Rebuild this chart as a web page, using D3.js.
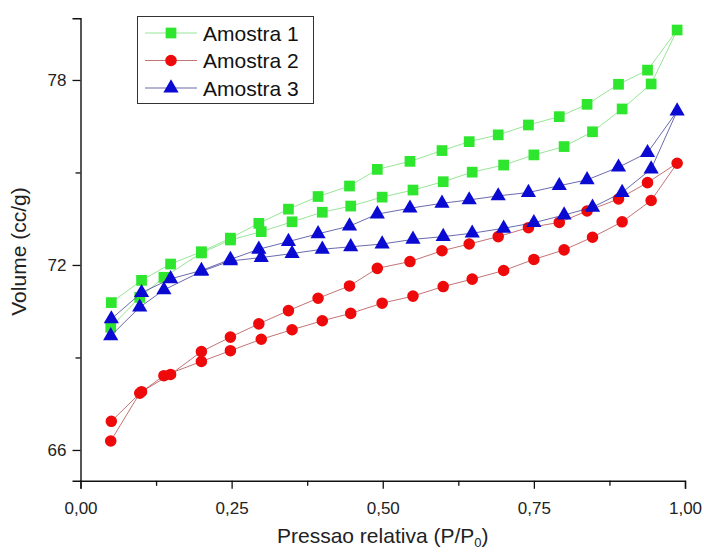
<!DOCTYPE html>
<html>
<head>
<meta charset="utf-8">
<script src="https://cdn.jsdelivr.net/npm/d3@7"></script>
<style>
  html, body { margin: 0; padding: 0; background: #fff; }
  svg { display: block; font-family: "Liberation Sans", Arial, sans-serif; }
</style>
</head>
<body>
<svg id="chart" width="704" height="552"></svg>
<script>
// Relative pressure points: adsorption (rising), the turning point, desorption (falling)
const pAds = [0.050, 0.098, 0.138, 0.200, 0.248, 0.299, 0.350, 0.400, 0.447, 0.499,
              0.550, 0.600, 0.648, 0.700, 0.750, 0.800, 0.847, 0.896, 0.944];
const pTop = 0.987;
const pDes = [0.938, 0.890, 0.838, 0.792, 0.741, 0.691, 0.643, 0.598, 0.545, 0.491,
              0.445, 0.393, 0.344, 0.295, 0.248, 0.200, 0.149, 0.101, 0.051];

// Volume adsorbed (cc/g) for each sample
const amostra1Ads = [69.98, 70.95, 71.60, 72.39, 72.81, 73.08, 73.40, 73.71, 73.91, 74.20,
                     74.43, 74.70, 75.01, 75.24, 75.57, 75.84, 76.32, 77.06, 77.87];
const amostra1Top = 79.62;
const amostra1Des = [78.32, 77.86, 77.21, 76.81, 76.54, 76.22, 76.00, 75.71, 75.36, 75.10,
                     74.56, 74.22, 73.81, 73.35, 72.87, 72.43, 72.03, 71.50, 70.78];

const amostra2Ads = [66.29, 67.84, 68.41, 68.87, 69.22, 69.59, 69.90, 70.19, 70.43, 70.76,
                     70.99, 71.30, 71.54, 71.82, 72.18, 72.49, 72.90, 73.40, 74.09];
const amostra2Top = 75.30;
const amostra2Des = [74.67, 74.14, 73.75, 73.38, 73.21, 72.92, 72.68, 72.46, 72.11, 71.89,
                     71.32, 70.92, 70.52, 70.09, 69.66, 69.19, 68.45, 67.89, 66.93];

const amostra3Ads = [69.70, 70.63, 71.19, 71.79, 72.13, 72.24, 72.37, 72.51, 72.59, 72.68,
                     72.83, 72.92, 73.03, 73.19, 73.37, 73.62, 73.87, 74.35, 75.11];
const amostra3Top = 76.99;
const amostra3Des = [75.64, 75.17, 74.76, 74.57, 74.35, 74.24, 74.11, 74.00, 73.84, 73.65,
                     73.26, 73.01, 72.76, 72.51, 72.18, 71.82, 71.55, 71.10, 70.25];

const seriesNames = ["Amostra 1", "Amostra 2", "Amostra 3"];
const xTicks = [0, 0.25, 0.5, 0.75, 1];
const xMinorTicks = [0.125, 0.375, 0.625, 0.875];
const yTicks = [66, 72, 78];
const yMinorTicks = [69, 75];

const svg = d3.select("#chart");

const x = d3.scaleLinear().domain([0, 1]).range([80.5, 685]);
const y = d3.scaleLinear().domain([65, 80]).range([480.8, 18.3]);

const fmtX = v => d3.format(".2f")(v).replace(".", ",");

// Build each sample's full loop: adsorption, turning point, desorption
function loop(ads, top, des) {
  const pts = pAds.map((p, i) => ({ p, v: ads[i] }));
  pts.push({ p: pTop, v: top });
  pDes.forEach((p, i) => pts.push({ p, v: des[i] }));
  return pts;
}

const series = [
  { name: seriesNames[0], color: "#2ee62e", line: "#6ada6a", shape: "square",
    pts: loop(amostra1Ads, amostra1Top, amostra1Des) },
  { name: seriesNames[1], color: "#ee0a0a", line: "#a8383a", shape: "circle",
    pts: loop(amostra2Ads, amostra2Top, amostra2Des) },
  { name: seriesNames[2], color: "#0a0ad2", line: "#2a2a8a", shape: "triangle",
    pts: loop(amostra3Ads, amostra3Top, amostra3Des) }
];

const symbolFor = {
  square: d3.symbol().type(d3.symbolSquare).size(115),
  circle: d3.symbol().type(d3.symbolCircle).size(105),
  triangle: d3.symbol().type(d3.symbolTriangle).size(100)
};

const line = d3.line().x(d => x(d.p)).y(d => y(d.v));

// Axes
const axisColor = "#111";
svg.append("g").attr("transform", `translate(0,${y(65)})`)
  .call(d3.axisBottom(x).tickValues(xTicks).tickFormat(fmtX).tickSizeOuter(0).tickSize(8).tickPadding(13));
svg.append("g").attr("transform", `translate(0,${y(65)})`)
  .call(d3.axisBottom(x).tickValues(xMinorTicks).tickFormat("").tickSizeOuter(0).tickSize(5))
  .select(".domain").remove();

svg.append("g").attr("transform", `translate(${x(0)},0)`)
  .call(d3.axisLeft(y).tickValues(yTicks).tickFormat(d3.format("d")).tickSizeOuter(0).tickSize(8).tickPadding(6));
svg.append("g").attr("transform", `translate(${x(0)},0)`)
  .call(d3.axisLeft(y).tickValues(yMinorTicks).tickFormat("").tickSizeOuter(0).tickSize(5))
  .select(".domain").remove();

svg.selectAll(".domain").attr("stroke", axisColor).attr("stroke-width", 1.4);
svg.selectAll(".tick line").attr("stroke", axisColor).attr("stroke-width", 1.3);
svg.selectAll(".tick text").attr("fill", "#222").attr("font-size", 17)
  .attr("font-family", "Liberation Sans, Arial, sans-serif");

// Axis titles
svg.append("text")
  .attr("transform", `translate(26,${(y(65) + y(80)) / 2 + 2}) rotate(-90)`)
  .attr("text-anchor", "middle")
  .attr("font-size", 21).attr("fill", "#222")
  .text("Volume (cc/g)");

const xt = svg.append("text")
  .attr("x", (x(0) + x(1)) / 2).attr("y", 543)
  .attr("text-anchor", "middle")
  .attr("font-size", 21).attr("fill", "#222");
xt.append("tspan").text("Pressao relativa (P/P");
xt.append("tspan").attr("font-size", 13).attr("dy", 4).text("0");
xt.append("tspan").attr("dy", -4).text(")");

// Data lines and markers
series.forEach(s => {
  svg.append("path")
    .datum(s.pts)
    .attr("fill", "none")
    .attr("stroke", s.line)
    .attr("stroke-width", 0.7)
    .attr("d", line);
  svg.append("g").selectAll("path")
    .data(s.pts)
    .join("path")
    .attr("transform", d => `translate(${x(d.p)},${y(d.v)})`)
    .attr("d", symbolFor[s.shape]())
    .attr("fill", s.color);
});

// Legend
const lg = svg.append("g");
lg.append("rect")
  .attr("x", 137.5).attr("y", 16.5).attr("width", 176).attr("height", 87)
  .attr("fill", "#fff").attr("stroke", "#333").attr("stroke-width", 1);
series.forEach((s, i) => {
  const cy = 33 + i * 27.5;
  lg.append("line")
    .attr("x1", 145).attr("x2", 197).attr("y1", cy).attr("y2", cy)
    .attr("stroke", s.line).attr("stroke-width", 0.7);
  lg.append("path")
    .attr("transform", `translate(171,${cy})`)
    .attr("d", symbolFor[s.shape]())
    .attr("fill", s.color);
  lg.append("text")
    .attr("x", 203).attr("y", cy + 7.5)
    .attr("font-size", 21).attr("fill", "#111")
    .text(s.name);
});
</script>
</body>
</html>
